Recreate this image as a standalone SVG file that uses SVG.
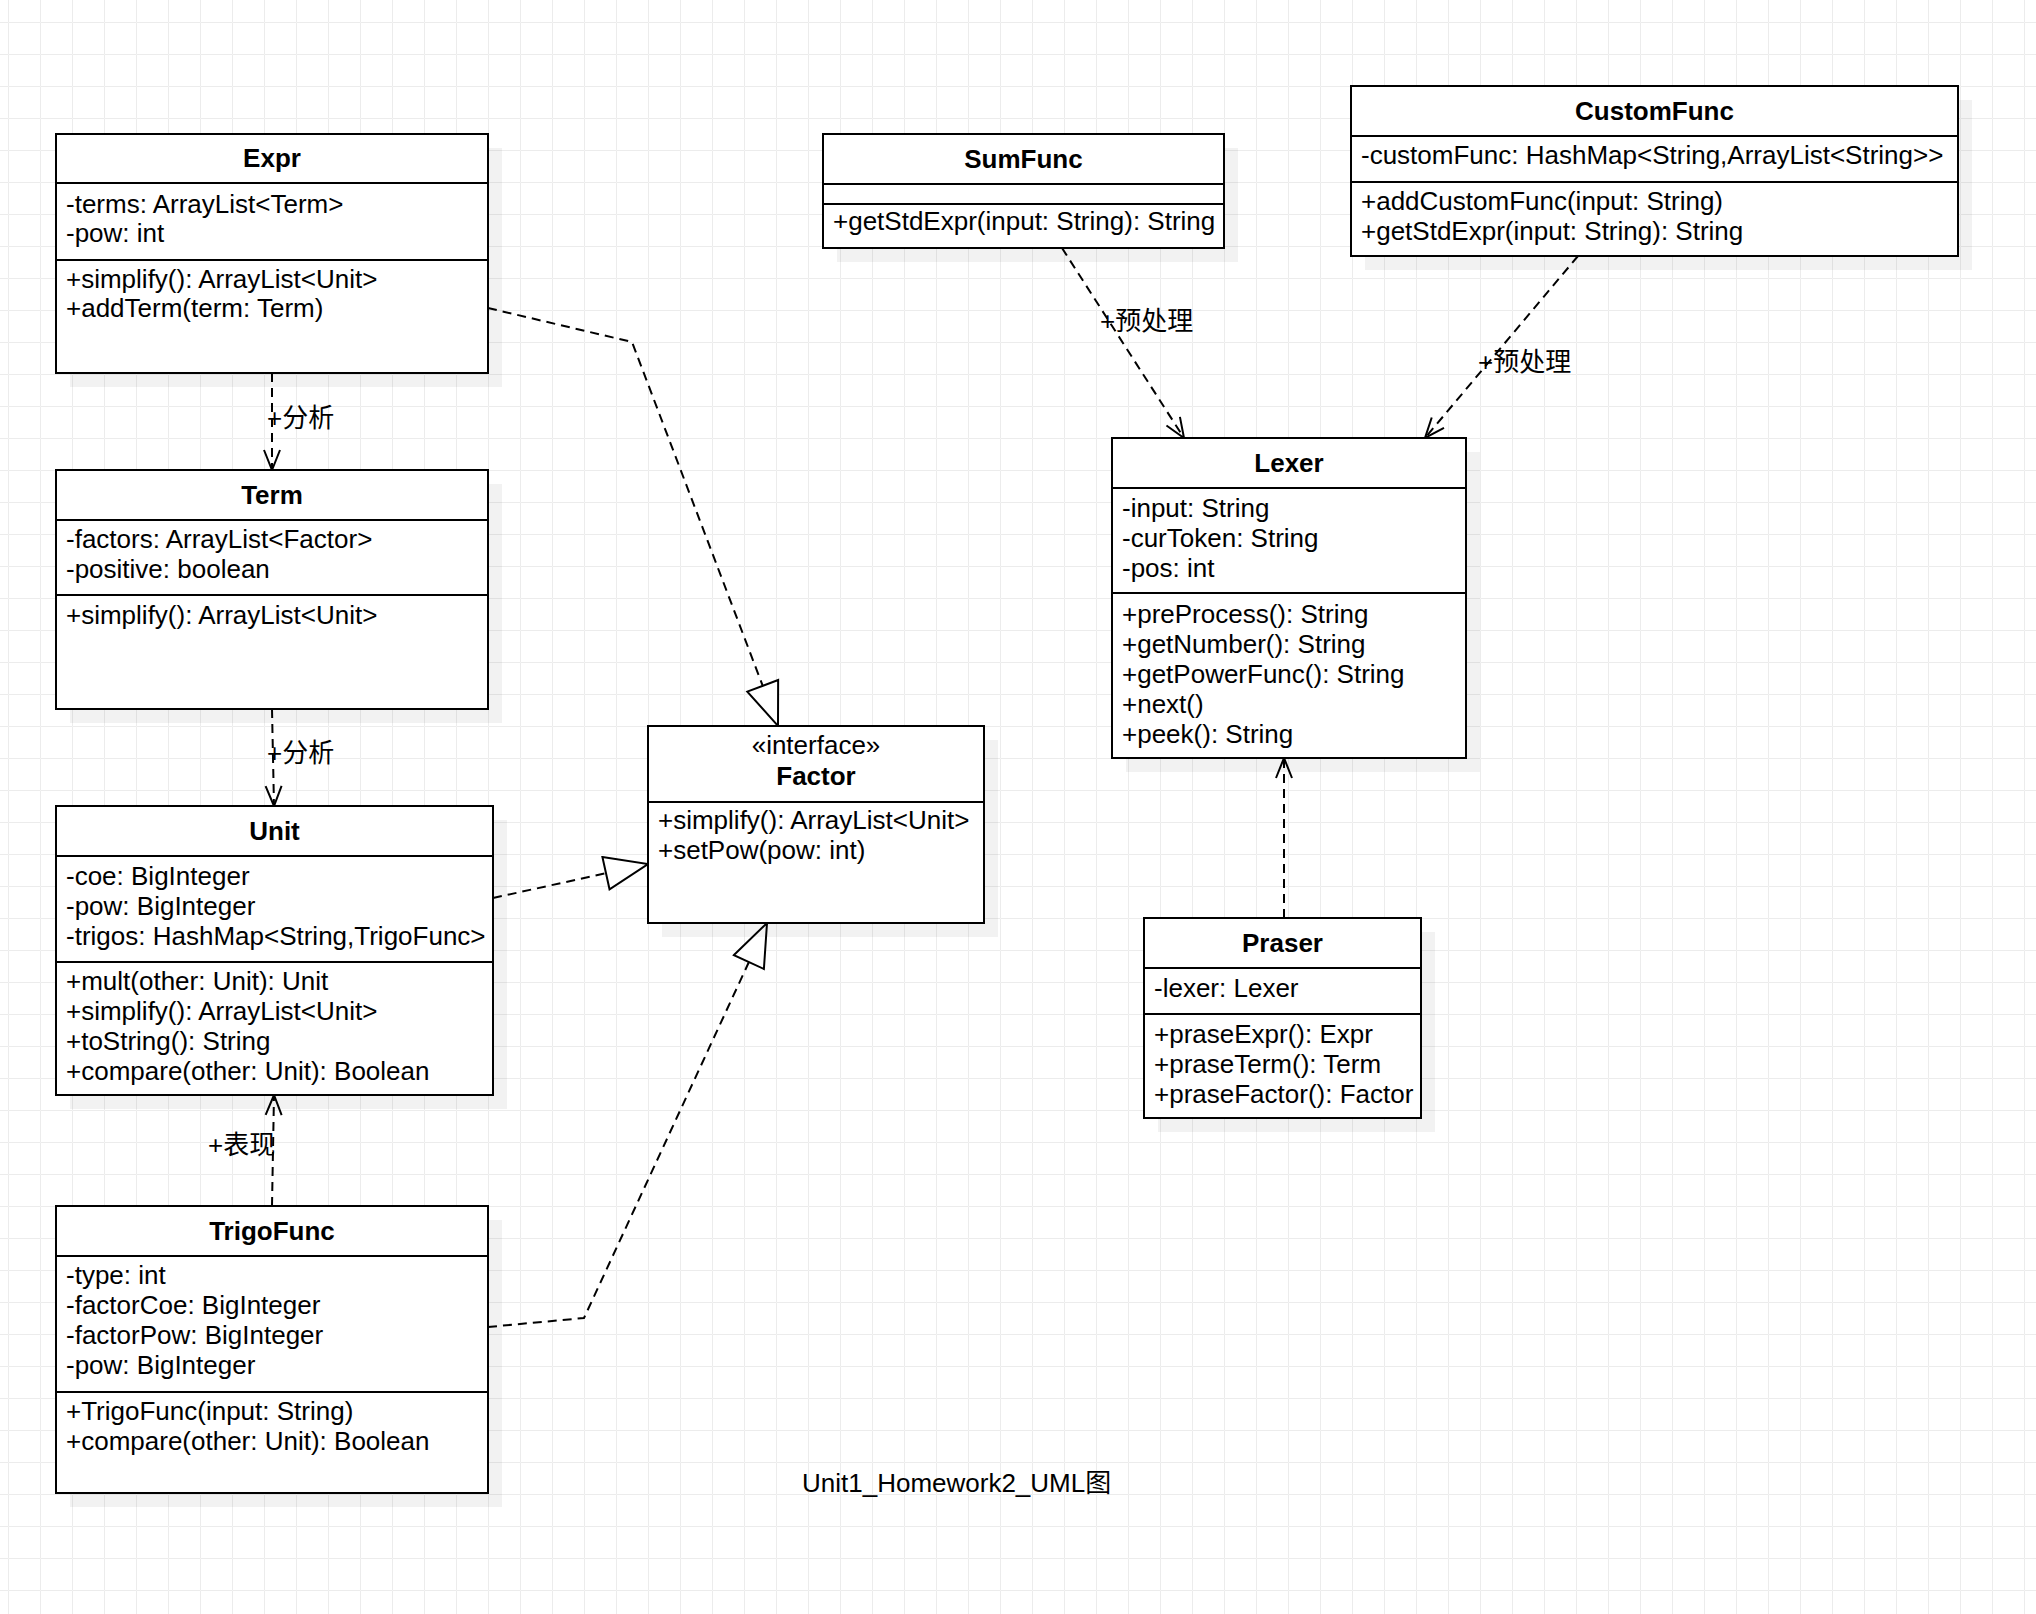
<svg xmlns="http://www.w3.org/2000/svg" width="2036" height="1614" viewBox="0 0 2036 1614">
<style>
text{font-family:"Liberation Sans",Arial,"Noto Sans CJK SC",sans-serif;font-size:26px;fill:#000}
.t{font-weight:bold;text-anchor:middle}
.c{text-anchor:middle}
.box{fill:#fff;stroke:#000;stroke-width:2}
.sh{fill:#000;fill-opacity:0.05;stroke:none}
.div{stroke:#000;stroke-width:2;fill:none}
.dep{fill:none;stroke:#000;stroke-width:2;stroke-dasharray:9 6;marker-end:url(#open)}
.real{fill:none;stroke:#000;stroke-width:2;stroke-dasharray:9 6;marker-end:url(#tri)}
</style>
<defs>
<pattern id="grid" width="32" height="32" patternUnits="userSpaceOnUse" x="8" y="22">
<path d="M32,0.5 L0.5,0.5 L0.5,32" fill="none" stroke="#ececec" stroke-width="1"/>
</pattern>
<marker id="open" markerUnits="userSpaceOnUse" markerWidth="30" markerHeight="30" refX="20" refY="0" orient="auto" overflow="visible">
<path d="M0,-8 L20,0 L0,8" fill="none" stroke="#000" stroke-width="2" stroke-dasharray="none"/>
</marker>
<marker id="tri" markerUnits="userSpaceOnUse" markerWidth="50" markerHeight="40" refX="43" refY="0" orient="auto" overflow="visible">
<path d="M0,-16.5 L43,0 L0,16.5 Z" fill="#fff" stroke="#000" stroke-width="2" stroke-dasharray="none"/>
</marker>
</defs>
<rect width="2036" height="1614" fill="#fff"/>
<rect width="2036" height="1614" fill="url(#grid)"/>

<g id="connectors">
<path class="dep" d="M272,373 L272,470"/>
<path class="dep" d="M272,709 L274,806"/>
<path class="dep" d="M272,1206 L274,1095"/>
<path class="real" d="M488,308 L632,342 L778,726"/>
<path class="real" d="M493,898 L648,864"/>
<path class="real" d="M488,1327 L584,1318 L767,923"/>
<path class="dep" d="M1062,248 L1184,438"/>
<path class="dep" d="M1578,256 L1425,438"/>
<path class="dep" d="M1284,918 L1284,758"/>
<text x="267" y="427">+分析</text>
<text x="267" y="762">+分析</text>
<text x="208" y="1154">+表现</text>
<text x="1100" y="330">+预处理</text>
<text x="1478" y="371">+预处理</text>
</g>

<g id="Expr">
<rect class="sh" x="70" y="148" width="432" height="239"/>
<rect class="box" x="56" y="134" width="432" height="239"/>
<path class="div" d="M56,183 H488 M56,260 H488"/>
<text class="t" x="272" y="167">Expr</text>
<text x="66" y="213">-terms: ArrayList&lt;Term&gt;</text>
<text x="66" y="242">-pow: int</text>
<text x="66" y="288">+simplify(): ArrayList&lt;Unit&gt;</text>
<text x="66" y="317">+addTerm(term: Term)</text>
</g>

<g id="Term">
<rect class="sh" x="70" y="484" width="432" height="239"/>
<rect class="box" x="56" y="470" width="432" height="239"/>
<path class="div" d="M56,520 H488 M56,595 H488"/>
<text class="t" x="272" y="504">Term</text>
<text x="66" y="548">-factors: ArrayList&lt;Factor&gt;</text>
<text x="66" y="578">-positive: boolean</text>
<text x="66" y="624">+simplify(): ArrayList&lt;Unit&gt;</text>
</g>

<g id="Unit">
<rect class="sh" x="70" y="820" width="437" height="289"/>
<rect class="box" x="56" y="806" width="437" height="289"/>
<path class="div" d="M56,856 H493 M56,962 H493"/>
<text class="t" x="274.5" y="840">Unit</text>
<text x="66" y="884.5">-coe: BigInteger</text>
<text x="66" y="914.5">-pow: BigInteger</text>
<text x="66" y="944.5">-trigos: HashMap&lt;String,TrigoFunc&gt;</text>
<text x="66" y="990">+mult(other: Unit): Unit</text>
<text x="66" y="1020">+simplify(): ArrayList&lt;Unit&gt;</text>
<text x="66" y="1050">+toString(): String</text>
<text x="66" y="1080">+compare(other: Unit): Boolean</text>
</g>

<g id="TrigoFunc">
<rect class="sh" x="70" y="1220" width="432" height="287"/>
<rect class="box" x="56" y="1206" width="432" height="287"/>
<path class="div" d="M56,1256 H488 M56,1392 H488"/>
<text class="t" x="272" y="1240">TrigoFunc</text>
<text x="66" y="1284">-type: int</text>
<text x="66" y="1314">-factorCoe: BigInteger</text>
<text x="66" y="1344">-factorPow: BigInteger</text>
<text x="66" y="1374">-pow: BigInteger</text>
<text x="66" y="1420">+TrigoFunc(input: String)</text>
<text x="66" y="1450">+compare(other: Unit): Boolean</text>
</g>

<g id="Factor">
<rect class="sh" x="662" y="740" width="336" height="197"/>
<rect class="box" x="648" y="726" width="336" height="197"/>
<path class="div" d="M648,802 H984"/>
<text class="c" x="816" y="754">«interface»</text>
<text class="t" x="816" y="785">Factor</text>
<text x="658" y="829">+simplify(): ArrayList&lt;Unit&gt;</text>
<text x="658" y="859">+setPow(pow: int)</text>
</g>

<g id="SumFunc">
<rect class="sh" x="837" y="148" width="401" height="114"/>
<rect class="box" x="823" y="134" width="401" height="114"/>
<path class="div" d="M823,184 H1224 M823,204 H1224"/>
<text class="t" x="1023.5" y="168">SumFunc</text>
<text x="833" y="230">+getStdExpr(input: String): String</text>
</g>

<g id="CustomFunc">
<rect class="sh" x="1365" y="100" width="607" height="170"/>
<rect class="box" x="1351" y="86" width="607" height="170"/>
<path class="div" d="M1351,136 H1958 M1351,182 H1958"/>
<text class="t" x="1654.5" y="120">CustomFunc</text>
<text x="1361" y="164">-customFunc: HashMap&lt;String,ArrayList&lt;String&gt;&gt;</text>
<text x="1361" y="209.5">+addCustomFunc(input: String)</text>
<text x="1361" y="240">+getStdExpr(input: String): String</text>
</g>

<g id="Lexer">
<rect class="sh" x="1126" y="452" width="354" height="320"/>
<rect class="box" x="1112" y="438" width="354" height="320"/>
<path class="div" d="M1112,488 H1466 M1112,593 H1466"/>
<text class="t" x="1289" y="472">Lexer</text>
<text x="1122" y="517">-input: String</text>
<text x="1122" y="547">-curToken: String</text>
<text x="1122" y="577">-pos: int</text>
<text x="1122" y="623">+preProcess(): String</text>
<text x="1122" y="653">+getNumber(): String</text>
<text x="1122" y="683">+getPowerFunc(): String</text>
<text x="1122" y="713">+next()</text>
<text x="1122" y="743">+peek(): String</text>
</g>

<g id="Praser">
<rect class="sh" x="1158" y="932" width="277" height="200"/>
<rect class="box" x="1144" y="918" width="277" height="200"/>
<path class="div" d="M1144,968 H1421 M1144,1014 H1421"/>
<text class="t" x="1282.5" y="952">Praser</text>
<text x="1154" y="997">-lexer: Lexer</text>
<text x="1154" y="1043">+praseExpr(): Expr</text>
<text x="1154" y="1073">+praseTerm(): Term</text>
<text x="1154" y="1103">+praseFactor(): Factor</text>
</g>

<text x="802" y="1492">Unit1_Homework2_UML图</text>
</svg>
